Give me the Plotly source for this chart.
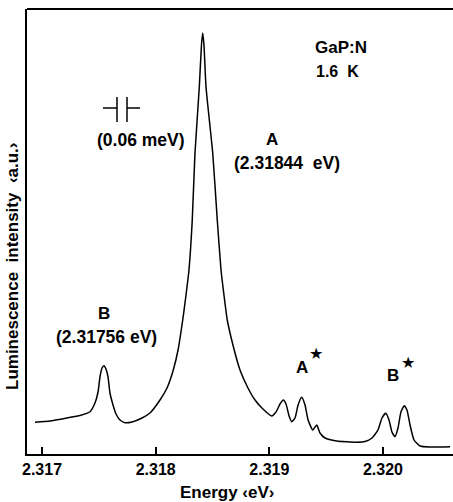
import plotly.graph_objects as go

# Energy (eV) and luminescence intensity (a.u.)
energy = [2.316938, 2.317070, 2.317220, 2.317334, 2.317422, 2.317466, 2.317493, 2.317510,
          2.317528, 2.317545, 2.317563, 2.317581, 2.317598, 2.317625, 2.317651, 2.317686,
          2.317730, 2.317792, 2.317880, 2.317950, 2.318038, 2.318100, 2.318155, 2.318197,
          2.318238, 2.318267, 2.318293, 2.318322, 2.318346, 2.318384, 2.318403, 2.318414,
          2.318425, 2.318443, 2.318502, 2.318542, 2.318575, 2.318601, 2.318630, 2.318680,
          2.318742, 2.318812, 2.318874, 2.318944, 2.319021, 2.319059, 2.319094, 2.319123,
          2.319147, 2.319174, 2.319197, 2.319226, 2.319253, 2.319285, 2.319314, 2.319341,
          2.319382, 2.319417, 2.319446, 2.319490, 2.319593, 2.319769, 2.319842, 2.319903,
          2.319956, 2.319991, 2.320024, 2.320053, 2.320079, 2.320106, 2.320132, 2.320158,
          2.320187, 2.320211, 2.320238, 2.320273, 2.320326, 2.320414, 2.320590]
intensity = [31.7, 33, 36, 38.5, 42.3, 51, 62, 77,
             86, 88.3, 85, 77, 61, 49, 40, 34,
             31.3, 32, 36, 41, 54, 66, 84, 104,
             134, 159, 184, 234, 301, 367, 409, 421,
             409, 367, 301, 234, 184, 159, 134, 109,
             84, 66, 54, 45, 38, 42, 50, 54,
             50, 38, 32.3, 36, 49, 56.7, 49, 34,
             24, 29, 21, 16, 13, 11.7, 12.5, 16,
             24, 36, 40.7, 34, 22, 17.3, 26, 42,
             48.3, 44, 29, 14, 8, 7, 7.3]

tick_vals = [2.317, 2.318, 2.319, 2.320]
tick_text = ["2.317", "2.318", "2.319", "2.320"]

FONT = "Liberation Sans, Arial, sans-serif"

fig = go.Figure()
fig.add_trace(go.Scatter(x=energy, y=intensity, mode="lines",
                         line=dict(color="black", width=1.5, shape="spline", smoothing=0.5),
                         hoverinfo="skip", showlegend=False))

W, H = 453, 502
L, R, T, B = 27, 0, 9, 48
pw, ph = W - L - R, H - T - B


def px(x):
    return (x - L) / pw


def py(y):
    return (H - B - y) / ph


ann = [
    dict(text="<b>GaP:N</b>", x=px(341), y=py(47), size=17),
    dict(text="<b>1.6  K</b>", x=px(337), y=py(72), size=16),
    dict(text="<b>(0.06 meV)</b>", x=px(141), y=py(140), size=17.5),
    dict(text="<b>A</b>", x=px(272), y=py(139), size=17),
    dict(text="<b>(2.31844  eV)</b>", x=px(287), y=py(163), size=17.5),
    dict(text="<b>B</b>", x=px(104), y=py(313), size=17),
    dict(text="<b>(2.31756 eV)</b>", x=px(106), y=py(337), size=17.5),
    dict(text="<b>A</b>", x=px(302), y=py(367), size=17),
    dict(text="★", x=px(316), y=py(353), size=16),
    dict(text="<b>B</b>", x=px(393), y=py(375), size=17),
    dict(text="★", x=px(408), y=py(362), size=16),
]
annotations = [dict(text=a["text"], x=a["x"], y=a["y"], xref="paper", yref="paper",
                    showarrow=False, xanchor="center", yanchor="middle",
                    font=dict(family=FONT, size=a["size"], color="black")) for a in ann]
annotations.append(dict(text="<b>Luminescence  intensity  ‹a.u.›</b>", x=px(12), y=py(266),
                        xref="paper", yref="paper", showarrow=False, textangle=-90,
                        xanchor="center", yanchor="middle",
                        font=dict(family=FONT, size=17, color="black")))
annotations.append(dict(text="<b>Energy ‹eV›</b>", x=px(227), y=py(492),
                        xref="paper", yref="paper", showarrow=False,
                        xanchor="center", yanchor="middle",
                        font=dict(family=FONT, size=17, color="black")))

# resolution marker (⊣⊢)
shapes = []
for (x0, y0, x1, y1) in [(103, 108, 117, 108), (127, 108, 140, 108),
                         (117, 97, 117, 122), (127, 97, 127, 122)]:
    shapes.append(dict(type="line", xref="paper", yref="paper",
                       x0=px(x0), y0=py(y0), x1=px(x1), y1=py(y1),
                       line=dict(color="black", width=1.5)))
# top frame line
shapes.append(dict(type="line", xref="paper", yref="paper", x0=0, y0=1, x1=1, y1=1,
                   line=dict(color="black", width=2)))

fig.update_layout(
    width=W, height=H,
    margin=dict(l=L, r=R, t=T, b=B),
    paper_bgcolor="white", plot_bgcolor="white",
    annotations=annotations, shapes=shapes,
    xaxis=dict(range=[2.316868, 2.320616], tickvals=tick_vals,
               ticktext=["<b>" + t + "</b>" for t in tick_text],
               ticks="inside", ticklen=7, tickwidth=1.5, tickcolor="black",
               showline=True, linecolor="black", linewidth=2, showgrid=False,
               zeroline=False, tickfont=dict(family=FONT, size=16, color="black")),
    yaxis=dict(range=[0, 445], showticklabels=False, ticks="", showline=True,
               linecolor="black", linewidth=1.5, showgrid=False, zeroline=False),
    font=dict(family=FONT, color="black"),
)

fig.write_html("out.html")
